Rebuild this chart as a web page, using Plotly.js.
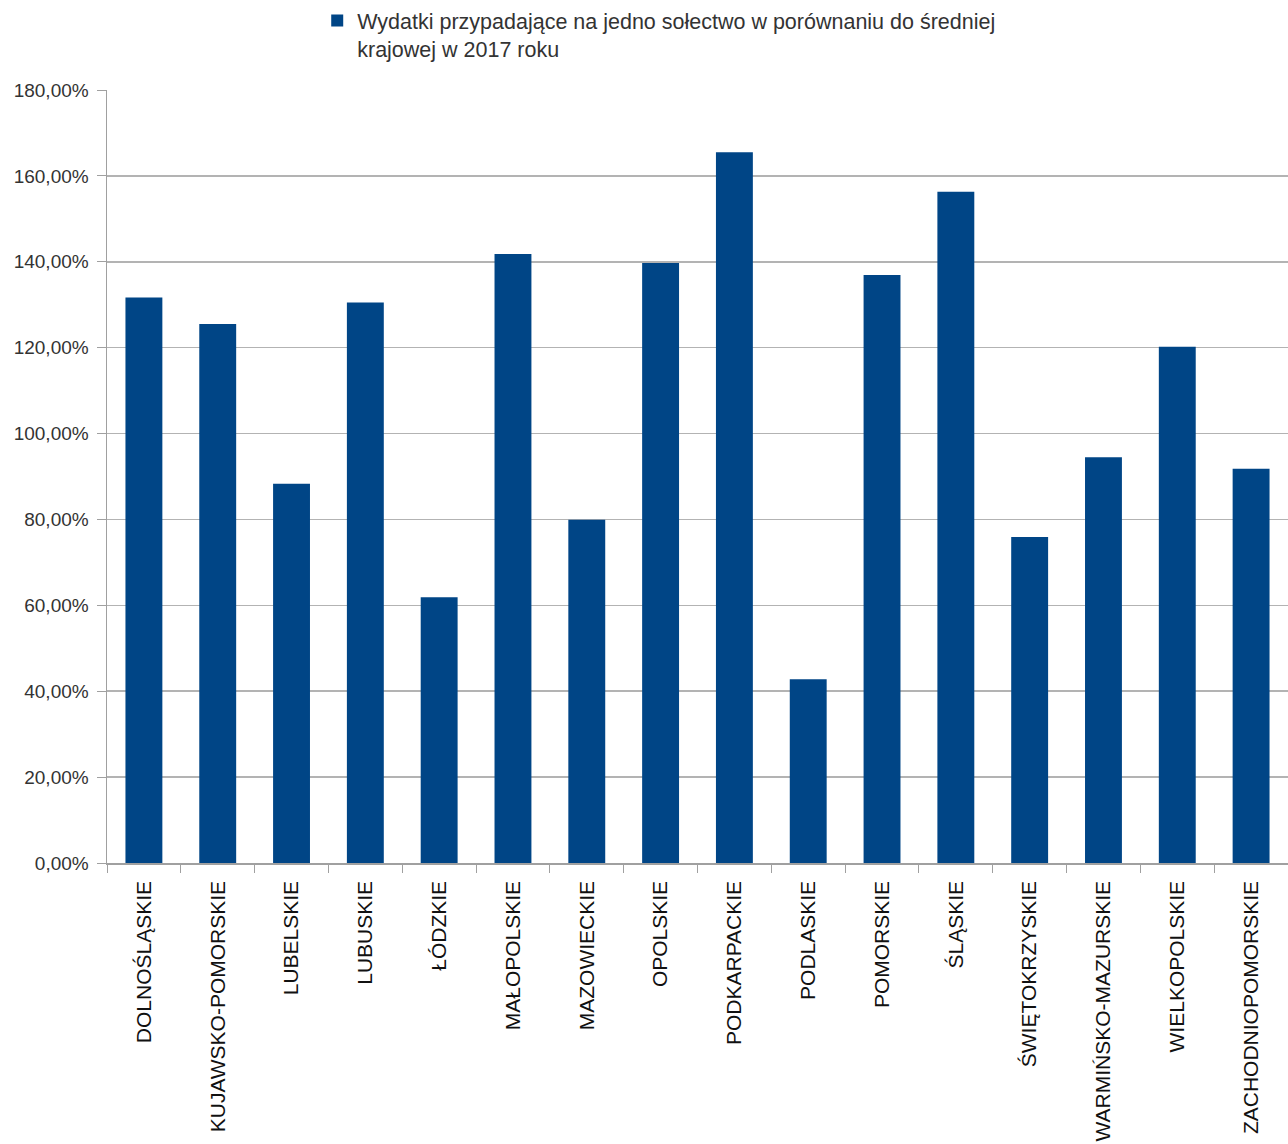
<!DOCTYPE html>
<html>
<head>
<meta charset="utf-8">
<script src="https://cdn.plot.ly/plotly-3.0.1.min.js"></script>
<style>html,body{margin:0;padding:0;background:#fff;}#chart{width:1288px;height:1144px;}</style>
</head>
<body>
<div id="chart"></div>
<script>
const categories = ["DOLNOŚLĄSKIE","KUJAWSKO-POMORSKIE","LUBELSKIE","LUBUSKIE","ŁÓDZKIE","MAŁOPOLSKIE","MAZOWIECKIE","OPOLSKIE","PODKARPACKIE","PODLASKIE","POMORSKIE","ŚLĄSKIE","ŚWIĘTOKRZYSKIE","WARMIŃSKO-MAZURSKIE","WIELKOPOLSKIE","ZACHODNIOPOMORSKIE"];
const values = [131.7,125.5,88.3,130.5,61.9,141.8,79.9,139.7,165.5,42.8,136.9,156.3,75.9,94.5,120.2,91.8];
const seriesName = "Wydatki przypadające na jedno sołectwo w porównaniu do średniej<br>krajowej w 2017 roku";
const yTicks = [0,20,40,60,80,100,120,140,160,180];
const yTickText = ["0,00%","20,00%","40,00%","60,00%","80,00%","100,00%","120,00%","140,00%","160,00%","180,00%"];

const trace = {
  type: 'bar',
  x: categories,
  y: values,
  name: seriesName,
  marker: {color: '#004586'},
  showlegend: true
};

const layout = {
  width: 1288,
  height: 1144,
  margin: {l: 107, r: 0, t: 90, b: 281},
  paper_bgcolor: '#fff',
  plot_bgcolor: '#fff',
  bargap: 0.5,
  font: {family: 'Liberation Sans, Arial, sans-serif', size: 15, color: '#222'},
  showlegend: true,
  legend: {
    x: 0.178, xanchor: 'left', y: 1.117, yanchor: 'top',
    valign: 'top',
    font: {family: 'Liberation Sans, Arial, sans-serif', size: 21.5, color: '#333'},
    itemwidth: 30, bgcolor: 'rgba(0,0,0,0)'
  },
  xaxis: {
    type: 'category',
    range: [-0.5, 15.5],
    tickangle: -90,
    tickson: 'boundaries',
    ticks: 'outside', ticklen: 8, tickcolor: '#a0a0a0',
    ticklabelstandoff: 8,
    showline: true, linecolor: '#a0a0a0', linewidth: 1.5,
    showgrid: false,
    tickfont: {family: 'Liberation Sans, Arial, sans-serif', size: 21, color: '#111'}
  },
  yaxis: {
    range: [0, 180],
    tickvals: yTicks,
    ticktext: yTickText,
    ticks: 'outside', ticklen: 9, tickcolor: '#a0a0a0',
    ticklabelstandoff: 4,
    showline: true, linecolor: '#a0a0a0', linewidth: 1.5,
    showgrid: true, gridcolor: '#b3b3b3', gridwidth: 1.5,
    zeroline: false,
    tickfont: {family: 'Liberation Sans, Arial, sans-serif', size: 19, color: '#333'}
  }
};

Plotly.newPlot('chart', [trace], layout, {displayModeBar: false, staticPlot: true});
</script>
</body>
</html>
